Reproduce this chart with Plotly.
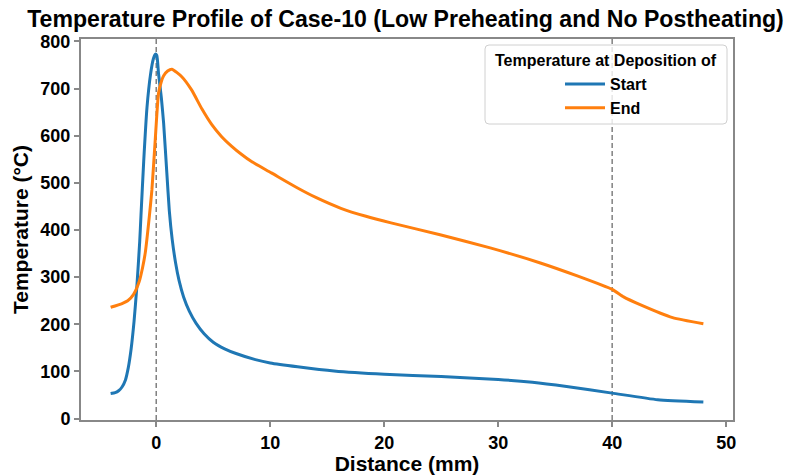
import plotly.graph_objects as go

# ---------------- data ----------------
start_x = [-4, -3.6, -3.3, -3.0, -2.7, -2.45, -2.2, -1.95, -1.7, -1.45, -1.34, -1.1, -0.81, -0.5, -0.25, -0.08, 0.05,
           0.2, 0.45, 0.65, 0.93, 1.15, 1.4, 1.7, 2.0, 2.4, 2.9, 3.5, 4.2, 5, 6, 7, 8.7, 10, 12.4, 15.6,
           20, 25, 30, 33, 36, 40, 44, 48]
start_y = [53, 55, 59, 67, 82, 108, 148, 205, 280, 375, 430, 545, 660, 730, 763, 773, 770,
           732, 680, 626, 521, 440, 380, 330, 293, 258, 228, 202, 180, 162, 148, 138, 125, 118, 110, 101,
           94, 89, 83, 77, 68, 54, 40, 35]

end_x = [-4, -3, -2.5, -2.0, -1.5, -1.2, -0.96, -0.6, -0.38, -0.09, 0.2, 0.45, 0.65, 1.0, 1.37, 2.24, 3.1,
         4, 4.86, 5.7, 6.6, 7.5, 8.36, 10.1, 12.4, 14, 16.2, 18.4, 20.6, 24.9, 29.3, 33.7, 37, 40, 41,
         42.4, 45.3, 48]
end_y = [236, 244, 250, 263, 290, 320, 352, 430, 485, 590, 690, 715, 727, 737, 741, 725, 697,
         657, 624, 599, 578, 560, 545, 521, 489, 469, 446, 429, 415, 390, 362, 330, 302, 274, 258,
         242, 214, 201]

vlines_x = [0, 40]
series_names = ["Start", "End"]
colors = ["#1f77b4", "#ff7f0e"]
x_ticks = [0, 10, 20, 30, 40, 50]
y_ticks = [0, 100, 200, 300, 400, 500, 600, 700, 800]

FONT = "Arial, 'Liberation Sans', sans-serif"

fig = go.Figure()
for name, xs, ys, c in zip(series_names, [start_x, end_x], [start_y, end_y], colors):
    fig.add_trace(go.Scatter(x=xs, y=ys, mode="lines", name=f"<b>{name}</b>",
                             line=dict(color=c, width=3, shape="spline", smoothing=0.5)))

for vx in vlines_x:
    fig.add_vline(x=vx, line=dict(color="#808080", width=1.5, dash="5px,3px"), layer="below")

# legend box (matplotlib-style) + title
L, R, T, B = 81, 733, 39, 420
W, H = R - L, B - T
def px(x):
    return (x - L) / W
def py(y):
    return (B - y) / H
x0, x1, y0, y1 = px(485), px(727), py(124), py(45)
rx, ry = 4 / W, 4 / H
path = (f"M{x0+rx},{y0} L{x1-rx},{y0} Q{x1},{y0} {x1},{y0+ry} L{x1},{y1-ry} Q{x1},{y1} {x1-rx},{y1} "
        f"L{x0+rx},{y1} Q{x0},{y1} {x0},{y1-ry} L{x0},{y0+ry} Q{x0},{y0} {x0+rx},{y0} Z")
fig.add_shape(type="path", path=path, xref="paper", yref="paper",
              line=dict(color="#d0d0d0", width=1), fillcolor="rgba(255,255,255,0.8)", layer="above")
fig.add_annotation(text="<b>Temperature at Deposition of</b>", x=px(606), y=py(60), xref="paper", yref="paper",
                   showarrow=False, font=dict(family=FONT, size=16, color="black"), xanchor="center", yanchor="middle")

fig.update_layout(
    width=793, height=475,
    margin=dict(l=L, r=793 - R, t=T, b=475 - B, autoexpand=False),
    paper_bgcolor="white", plot_bgcolor="white",
    font=dict(family=FONT, color="black"),
    title=dict(text="<b>Temperature Profile of Case-10 (Low Preheating and No Postheating)</b>",
               x=(23 + 788) / 2 / 793, xanchor="center", y=1 - 19 / 475, yanchor="middle",
               font=dict(family=FONT, size=23.1, color="black")),
    legend=dict(x=px(560), y=py(67), xanchor="left", yanchor="top",
                bgcolor="rgba(0,0,0,0)", borderwidth=0,
                font=dict(family=FONT, size=16, color="black"),
                itemwidth=40, tracegroupgap=0),
    showlegend=True,
)
fig.update_xaxes(range=[-6.6, 50.6], tickvals=x_ticks, ticktext=[f"<b>{v}</b>" for v in x_ticks],
                 showgrid=False, zeroline=False, showline=True, linecolor="#888888", linewidth=2, mirror=True,
                 ticks="outside", ticklen=5, tickwidth=1.5, tickcolor="#888888", automargin=False,
                 tickfont=dict(family=FONT, size=18, color="black"),
                 title=dict(text="<b>Distance (mm)</b>", font=dict(family=FONT, size=21, color="black"), standoff=0))
fig.update_yaxes(range=[-3, 805], tickvals=y_ticks, ticktext=[f"<b>{v}</b>" for v in y_ticks],
                 showgrid=False, zeroline=False, showline=True, linecolor="#888888", linewidth=2, mirror=True,
                 ticks="outside", ticklen=5, tickwidth=1.5, tickcolor="#888888", automargin=False,
                 tickfont=dict(family=FONT, size=18, color="black"),
                 title=dict(text="<b>Temperature (°C)</b>", font=dict(family=FONT, size=21, color="black"), standoff=6))

fig.write_html("out.html", config={"displayModeBar": False},
               post_script="document.body.style.margin='0';")
